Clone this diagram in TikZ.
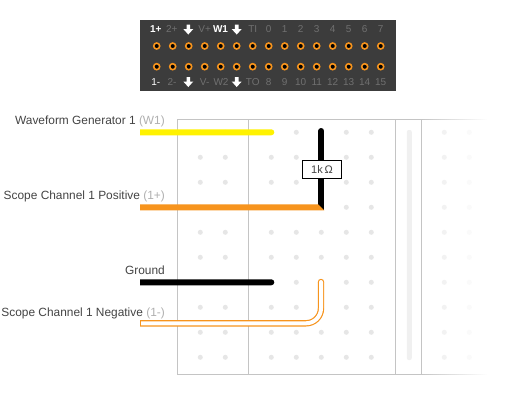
\documentclass[tikz,border=0pt]{standalone}
\usepackage{fontspec}
\setmainfont{Liberation Sans}
\definecolor{hdr}{HTML}{3C3C3C}
\definecolor{pinring}{HTML}{F7941D}
\definecolor{hdrdim}{HTML}{707070}
\definecolor{wireyellow}{HTML}{FFF200}
\definecolor{wireorange}{HTML}{F7941D}
\definecolor{board}{HTML}{C4C4C4}
\definecolor{holeA}{HTML}{E6E6E6}
\definecolor{holeB}{HTML}{F2F2F2}
\definecolor{holeC}{HTML}{FAFAFA}
\definecolor{railbar}{HTML}{F0F0F0}
\definecolor{lbl}{HTML}{444444}
\definecolor{lbldim}{HTML}{B0B0B0}
\tikzset{
  x=1pt,y=-1pt,
  pin/.style={circle,draw=pinring,fill=black,line width=1.6pt,minimum size=6pt,inner sep=0pt},
  hdrtxt/.style={font=\fontsize{10}{12}\selectfont,text=hdrdim,inner sep=0pt,anchor=center},
  hdron/.style={hdrtxt,text=white},
  hdrbold/.style={hdrtxt,text=white,font=\fontsize{10}{12}\selectfont\bfseries},
  harrow/.style={fill=white,draw=none},
  boardline/.style={draw=board,line width=1pt},
  wirelabel/.style={font=\fontsize{11.9}{14}\selectfont,text=lbl,anchor=base east,inner sep=0pt},
  resbox/.style={draw=black,fill=white,line width=0.9pt,minimum width=39pt,minimum height=18pt,inner sep=0pt,font=\fontsize{11}{13}\selectfont,text=lbl},
}
\newcommand{\dimpart}[1]{{\color{lbldim}#1}}
\begin{document}
\begin{tikzpicture}
\useasboundingbox (0,0) rectangle (530,410);
\fill[white] (0,0) rectangle (530,410);
% header
\fill[hdr] (140,20) rectangle (396,91);
\foreach \i in {0,...,15}{
  \ifnum\i<15
  \node[pin] (pt\i) at ({156.7+16*\i},46) {};
  \node[pin] (pb\i) at ({156.7+16*\i},66.7) {};
  \fi
}
\node[hdrbold] (t1) at (155.7,29.5) {1+};
\node[hdrtxt] (t2) at (171.7,29.5) {2+};
\node[hdrtxt] (t3) at (204.7,29.5) {V+};
\node[hdrbold] (t4) at (220.5,29.5) {W1};
\node[hdrtxt] (t5) at (252.7,29.5) {TI};
\foreach \lab [count=\c from 0] in {0,1,2,3,4,5,6,7}{
  \node[hdrtxt] (tn\c) at ({268.7+16*\c},29.5) {\lab};
}
\node[hdron] (b1) at (155.7,82) {1-};
\node[hdrtxt] (b2) at (172,82) {2-};
\node[hdrtxt] (b3) at (204.7,82) {V-};
\node[hdrtxt] (b4) at (221,82) {W2};
\node[hdrtxt] (b5) at (252.7,82) {TO};
\foreach \lab [count=\c from 0] in {8,9,10,11,12,13,14,15}{
  \node[hdrtxt] (bn\c) at ({268.7+16*\c},82) {\lab};
}
\foreach \ax/\ay in {188.3/24.5,236.7/24.5,188.3/77,236.7/77}{
  \fill[harrow] (\ax-1.8,\ay) -- (\ax+1.8,\ay) -- (\ax+1.8,\ay+4.5) -- (\ax+5,\ay+4.5)
    -- (\ax,\ay+10) -- (\ax-5,\ay+4.5) -- (\ax-1.8,\ay+4.5) -- cycle;
}
% board outline
\draw[boardline] (421.5,119.3) -- (177.3,119.3) -- (177.3,374) -- (421.5,374);
\draw[boardline] (248.3,119.3) -- (248.3,374);
\draw[boardline] (395.3,119.3) -- (395.3,374);
\draw[boardline] (421.5,119.3) -- (421.5,374);
\foreach \k in {0,...,32}{
  \pgfmathsetmacro{\pc}{100-3*\k}
  \draw[draw=board!\pc!white,line width=1pt] ({421+2*\k},119.3) -- ({423.2+2*\k},119.3);
  \draw[draw=board!\pc!white,line width=1pt] ({421+2*\k},374) -- ({423.2+2*\k},374);
}
% holes
\foreach \r in {0,...,9}{
  \foreach \hx in {200.3,225.3,271.3,296.3,321.3,346.3,371.3}{
    \fill[holeA] (\hx,{132.3+25*\r}) circle (2.5);
  }
  \fill[holeB] (444.3,{132.3+25*\r}) circle (2.5);
  \fill[holeC] (469.3,{132.3+25*\r}) circle (2.5);
}
\fill[railbar,rounded corners=2pt] (406.8,130) rectangle (411.8,360);
% wires
\fill[wireyellow] (140,129.3) -- (271.3,129.3) arc[start angle=-90,end angle=90,radius=3] -- (140,135.3) -- cycle;
\fill[black] (140,279.3) -- (271.3,279.3) arc[start angle=-90,end angle=90,radius=3] -- (140,285.3) -- cycle;
\coordinate (rT) at (321.3,131);
\draw[black,line width=6pt,line cap=round] (rT) -- (321.3,207);
\fill[black] (318.3,205) rectangle (324.3,210.3);
\fill[wireorange] (140,204.3) -- (318.3,204.3) -- (324.3,210.3) -- (140,210.3) -- cycle;
\fill[wireorange] (321,282) circle (3.2);
\draw[wireorange,line width=6.4pt] (140,323.3) -- (306,323.3) arc[start angle=90,end angle=0,radius=15] -- (321,282);
\fill[white] (321,282) circle (2);
\draw[white,line width=4pt] (141.2,323.3) -- (306,323.3) arc[start angle=90,end angle=0,radius=15] -- (321,282);
% resistor
\node[resbox] (res) at (322,169.7) {1k\,Ω};
% labels
\node[wirelabel] (l1) at (165,124) {Waveform Generator 1 \dimpart{(W1)}};
\node[wirelabel] (l2) at (165,199) {Scope Channel 1 Positive \dimpart{(1+)}};
\node[wirelabel] (l3) at (165,274) {Ground};
\node[wirelabel] (l4) at (165,316) {Scope Channel 1 Negative \dimpart{(1-)}};
\end{tikzpicture}
\end{document}
